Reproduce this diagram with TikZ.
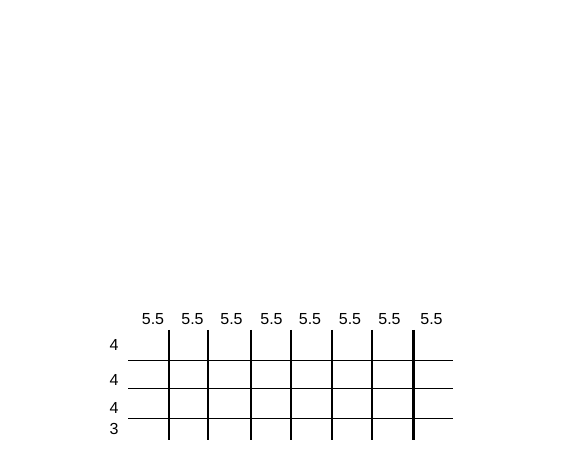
\documentclass[tikz,border=0pt]{standalone}
\usepackage{fontspec}
\setmainfont{Liberation Sans}
\begin{document}
\begin{tikzpicture}[x=1pt,y=-1pt,
  lbl/.style={font=\fontsize{16}{18}\selectfont, inner sep=0pt},
  col/.style={line width=2pt},
  row/.style={line width=1pt}]

\useasboundingbox (0,0) rectangle (565,462);

% column widths
\foreach \x in {153,192.5,231.5,271.5,310,350,389.5,431.5}
  \node[lbl] at (\x,319) {5.5};

% row heights
\foreach \y/\t in {345/4,380/4,408/4,429/3}
  \node[lbl] at (114,\y) {\t};

\draw[row] (128,360.5) -- (453,360.5);
\draw[row] (128,388.5) -- (453,388.5);
\draw[row] (128,418.5) -- (453,418.5);

\foreach \x in {169,208,251,291,332,372}
  \draw[col] (\x,330) -- (\x,440);
\draw[line width=3pt] (413.5,330) -- (413.5,440);

\end{tikzpicture}
\end{document}
